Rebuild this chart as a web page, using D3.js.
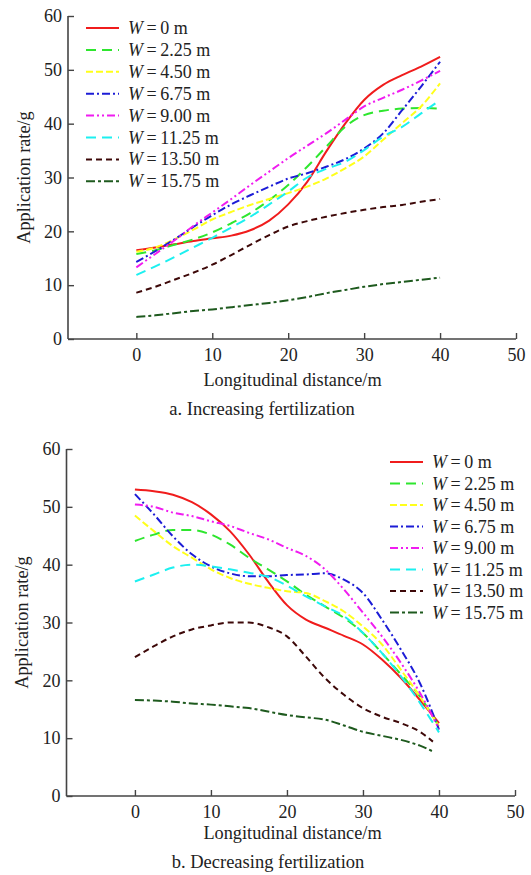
<!DOCTYPE html>
<html>
<head>
<meta charset="utf-8">
<script src="https://cdn.jsdelivr.net/npm/d3@7"></script>
<style>
  html, body { margin: 0; padding: 0; background: #fff; }
  svg { display: block; }
  text { font-family: "Liberation Serif", "Times New Roman", serif; fill: #222; }
</style>
</head>
<body>
<svg id="chart" width="531" height="875"></svg>
<script>
// Sampling positions along the field (m)
const distance = [0, 2.5, 5, 7.5, 10, 12.5, 15, 17.5, 20, 22.5, 25, 27.5, 30, 32.5, 35, 37.5, 40];

// Lateral offsets W (m) for each curve
const widths = ["0", "2.25", "4.50", "6.75", "9.00", "11.25", "13.50", "15.75"];

// a. Increasing fertilization — application rate (g)
const incW000 = [16.5, 17.0, 17.6, 18.2, 18.7, 19.2, 20.2, 22.0, 25.0, 29.2, 34.8, 40.0, 44.4, 47.2, 49.0, 50.6, 52.4];
const incW225 = [15.8, 16.5, 17.5, 18.5, 19.8, 21.5, 23.4, 25.8, 28.6, 32.0, 35.7, 39.4, 41.6, 42.4, 42.8, 42.9, 42.8];
const incW450 = [16.2, 17.0, 18.5, 20.3, 22.2, 23.6, 24.9, 26.0, 27.1, 28.3, 29.8, 31.7, 33.9, 37.0, 40.1, 43.2, 47.5];
const incW675 = [14.3, 16.3, 18.5, 20.8, 23.0, 25.0, 26.7, 28.3, 29.8, 30.8, 32.0, 33.4, 35.4, 38.2, 42.5, 46.9, 51.5];
const incW900 = [13.3, 15.8, 18.3, 21.0, 23.5, 26.0, 28.6, 31.1, 33.6, 35.9, 38.2, 40.7, 43.2, 44.8, 46.3, 48.0, 49.8];
const incW1125 = [11.9, 13.5, 15.2, 17.0, 18.8, 20.7, 22.7, 25.0, 27.4, 30.0, 31.6, 32.9, 35.1, 37.6, 39.4, 41.9, 44.4];
const incW1350 = [8.6, 9.7, 11.0, 12.3, 13.8, 15.6, 17.5, 19.3, 20.9, 21.9, 22.7, 23.4, 24.0, 24.5, 24.9, 25.5, 26.0];
const incW1575 = [4.1, 4.4, 4.8, 5.2, 5.5, 5.9, 6.3, 6.7, 7.2, 7.8, 8.5, 9.1, 9.7, 10.2, 10.6, 11.0, 11.4];

// b. Decreasing fertilization — application rate (g)
const decW000 = [53.0, 52.7, 52.1, 50.8, 48.7, 45.8, 41.8, 37.1, 33.0, 30.5, 29.1, 27.7, 26.2, 23.6, 20.4, 16.6, 12.6];
const decW225 = [44.1, 45.2, 46.0, 46.0, 45.2, 43.5, 41.2, 39.2, 37.1, 34.8, 32.8, 30.8, 28.2, 24.7, 21.0, 17.2, 12.0];
const decW450 = [48.5, 45.8, 43.2, 41.2, 39.2, 37.7, 36.7, 36.0, 35.4, 35.1, 33.7, 31.9, 29.3, 26.2, 21.8, 17.2, 12.0];
const decW675 = [52.2, 48.7, 44.9, 41.8, 39.7, 38.5, 38.0, 38.0, 38.2, 38.3, 38.5, 37.4, 35.1, 30.5, 25.3, 19.5, 11.5];
const decW900 = [50.4, 50.0, 49.0, 48.4, 47.5, 46.7, 45.5, 44.4, 42.9, 41.5, 39.2, 35.7, 31.7, 27.6, 23.0, 17.8, 11.6];
const decW1125 = [37.1, 38.3, 39.5, 40.0, 39.7, 39.2, 38.6, 37.9, 36.4, 34.5, 32.8, 31.1, 28.2, 24.7, 20.7, 16.1, 11.0];
const decW1350 = [24.0, 25.9, 27.6, 28.8, 29.5, 30.0, 30.0, 29.2, 27.6, 24.1, 20.4, 17.5, 15.2, 13.7, 12.6, 11.1, 9.4];
const decW1575 = [16.6, 16.5, 16.3, 16.0, 15.8, 15.5, 15.2, 14.6, 14.0, 13.6, 13.2, 12.2, 11.1, 10.4, 9.7, 8.7, 7.7];
// The two outermost curves of panel b stop just short of 40 m
const decLastDistance = [40, 40, 40, 40, 40, 40, 39.2, 39.2];

// Axis ticks
const xTicks = [0, 10, 20, 30, 40, 50];
const yTicks = [0, 10, 20, 30, 40, 50, 60];

// Line styles per W
const colors = ["#f01c1c", "#2ee62e", "#ffff1a", "#1c1cd6", "#f01cf0", "#1cf0f0", "#3d0808", "#1e5a1e"];
const dashes = [null, "10,6", "7,3", "8,3,2,3", "8,3,2,3,2,3", "10,6", "6,4", "9,3,3,3"];

const svg = d3.select("#chart");

function drawPanel(opts) {
  const g = svg.append("g");
  const x = d3.scaleLinear().domain([-9, 50]).range([opts.left, opts.right]);
  const y = d3.scaleLinear().domain([0, 60]).range([opts.bottom, opts.top]);

  // axes (ticks point inward, no box)
  const xAxis = g.append("g").attr("transform", `translate(0,${opts.bottom})`)
    .call(d3.axisBottom(x).tickValues(xTicks).tickSize(-6).tickPadding(9));
  const yAxis = g.append("g").attr("transform", `translate(${opts.left},0)`)
    .call(d3.axisLeft(y).tickValues(yTicks).tickSize(-6).tickPadding(6));
  [xAxis, yAxis].forEach(a => {
    a.select(".domain").attr("stroke", "#444").attr("stroke-width", 1.6);
    a.selectAll(".tick line").attr("stroke", "#444").attr("stroke-width", 1.4);
    a.selectAll(".tick text").attr("font-size", 18).attr("fill", "#222")
      .style("font-family", '"Liberation Serif", serif');
  });
  // plain axis lines without the outer end ticks
  xAxis.select(".domain").attr("d", `M${opts.left},0H${opts.right}`);
  yAxis.select(".domain").attr("d", `M0,${opts.bottom}V${opts.top}`);

  // curves
  const line = d3.line().x(d => x(d[0])).y(d => y(d[1])).curve(d3.curveMonotoneX);
  opts.series.forEach((vals, i) => {
    const pts = vals.map((v, k) => [distance[k], v]);
    if (opts.lastDistance) pts[pts.length - 1][0] = opts.lastDistance[i];
    g.append("path")
      .attr("d", line(pts))
      .attr("fill", "none")
      .attr("stroke", colors[i])
      .attr("stroke-width", 2)
      .attr("stroke-dasharray", dashes[i]);
  });

  // legend
  const lg = g.append("g");
  widths.forEach((w, i) => {
    const yy = opts.legY + i * opts.legStep;
    lg.append("line")
      .attr("x1", opts.legX).attr("x2", opts.legX + 33)
      .attr("y1", yy).attr("y2", yy)
      .attr("stroke", colors[i]).attr("stroke-width", 2)
      .attr("stroke-dasharray", dashes[i]);
    const t = lg.append("text").attr("x", opts.legX + 42).attr("y", yy + 6).attr("font-size", 18);
    t.append("tspan").attr("font-style", "italic").text("W");
    t.append("tspan").text("\u2009=\u2009" + w + " m");
  });

  // axis titles and caption
  g.append("text")
    .attr("transform", `translate(${opts.left - 38.5},${(opts.top + opts.bottom) / 2}) rotate(-90)`)
    .attr("text-anchor", "middle").attr("font-size", 18.3)
    .text("Application rate/g");
  g.append("text")
    .attr("x", 292.5).attr("y", opts.bottom + opts.titleDy)
    .attr("text-anchor", "middle").attr("font-size", 18.3)
    .text("Longitudinal distance/m");
  g.append("text")
    .attr("x", opts.captionX).attr("y", opts.bottom + opts.captionDy)
    .attr("text-anchor", "middle").attr("font-size", 18.5)
    .text(opts.caption);
}

drawPanel({
  left: 68, right: 516, top: 16, bottom: 339,
  series: [incW000, incW225, incW450, incW675, incW900, incW1125, incW1350, incW1575],
  legX: 86, legY: 28, legStep: 21.9,
  titleDy: 47, captionX: 262, captionDy: 75.5,
  caption: "a. Increasing fertilization"
});

drawPanel({
  left: 66.5, right: 515, top: 449, bottom: 796,
  series: [decW000, decW225, decW450, decW675, decW900, decW1125, decW1350, decW1575],
  lastDistance: decLastDistance,
  legX: 390, legY: 462, legStep: 21.5,
  titleDy: 43, captionX: 268, captionDy: 71.5,
  caption: "b. Decreasing fertilization"
});
</script>
</body>
</html>
